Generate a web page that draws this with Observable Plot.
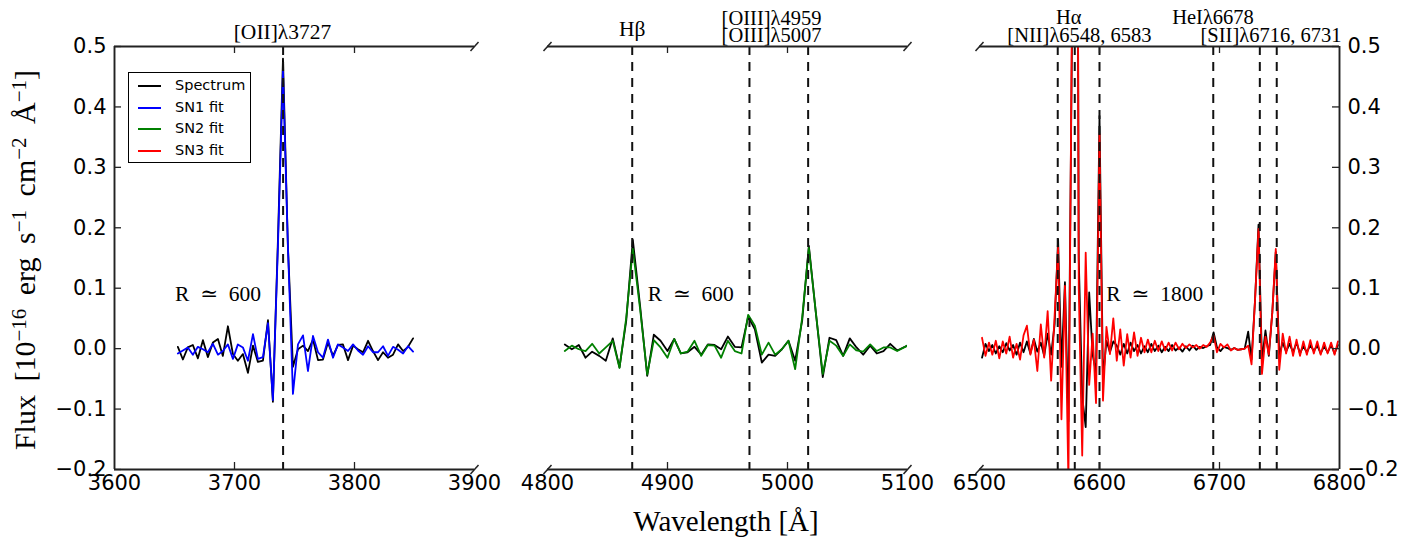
<!DOCTYPE html>
<html>
<head>
<meta charset="utf-8">
<script src="https://cdn.jsdelivr.net/npm/d3@7"></script>
<script src="https://cdn.jsdelivr.net/npm/@observablehq/plot@0.6"></script>
<style>
  html, body { margin: 0; padding: 0; background: #fff; }
  #wrap { position: relative; width: 1402px; height: 543px; overflow: hidden; background: #fff; }
  #wrap svg { position: absolute; top: 0; }
  #wrap svg g[aria-label$="tick label"] text { font-size: 21px; font-family: "DejaVu Sans", sans-serif; }
  .serif { font-family: "Liberation Serif", "DejaVu Serif", serif; color: #000; }
  .ytitle { position: absolute; font-size: 30px; white-space: nowrap; word-spacing: 6px; line-height: 30px;
            transform: translate(-50%, -50%) rotate(-90deg); }
  .ytitle sup { font-size: 21px; vertical-align: 0.45em; line-height: 0; }
  .xtitle { position: absolute; font-size: 29px; white-space: nowrap; line-height: 29px; transform: translateX(-50%); }
  .legend { position: absolute; left: 128px; top: 72px; width: 121px; height: 89px; border: 1.5px solid #000; background: #fff;
            font-family: "DejaVu Sans", sans-serif; font-size: 14.5px; }
  .legend .sw { position: absolute; left: 9px; width: 23px; height: 0; border-top: 2px solid; }
  .legend .lb { position: absolute; left: 46px; line-height: 18px; white-space: nowrap; }
</style>
</head>
<body>
<div id="wrap"></div>
<script>
// ---------------- DATA ----------------
const yDomain = [-0.2, 0.5];
const yTicks = [-0.2, -0.1, 0.0, 0.1, 0.2, 0.3, 0.4, 0.5];

const xDomain1 = [3600, 3900];
const xTicks1 = [3600, 3700, 3800, 3900];
const xDomain2 = [4800, 5100];
const xTicks2 = [4800, 4900, 5000, 5100];
const xDomain3 = [6500, 6800];
const xTicks3 = [6500, 6600, 6700, 6800];

const seriesNames = ["Spectrum", "SN1 fit", "SN2 fit", "SN3 fit"];

// Panel 1 : [OII] region (SN1)
const wl1 = [3652.8, 3657.0, 3661.1, 3665.3, 3669.5, 3673.7, 3677.8, 3682.0, 3686.2, 3690.3,
             3694.5, 3698.7, 3702.8, 3707.0, 3711.2, 3715.4, 3719.5, 3723.7, 3727.9, 3732.0,
             3736.2, 3740.4, 3744.5, 3748.7, 3752.9, 3757.1, 3761.2, 3765.4, 3769.6, 3773.7,
             3777.9, 3782.1, 3786.2, 3790.4, 3794.6, 3798.8, 3802.9, 3807.1, 3811.3, 3815.4,
             3819.6, 3823.8, 3827.9, 3832.1, 3836.3, 3840.5, 3844.6, 3848.8];
const spec1 = [0.003, -0.018, 0.002, 0.006, -0.016, 0.014, -0.014, 0.010, 0.016, -0.012,
               0.037, -0.009, -0.020, -0.009, -0.040, 0.005, -0.022, -0.020, 0.047, -0.088,
               0.18, 0.48, 0.17, -0.03, -0.001, 0.005, -0.004, 0.015, -0.019, -0.018,
               0.010, -0.012, 0.006, 0.007, -0.019, 0.005, -0.001, -0.006, 0.013, -0.004,
               -0.019, -0.006, -0.015, -0.010, 0.007, -0.004, 0.003, 0.017];
const fit1 = [-0.008, -0.003, 0.002, -0.010, 0.003, -0.001, -0.006, 0.008, -0.010, -0.004,
              0.007, -0.017, 0.007, 0.002, -0.020, 0.024, -0.017, -0.014, 0.042, -0.085,
              0.17, 0.46, 0.17, -0.075, 0.007, 0.022, -0.037, 0.021, -0.006, -0.015,
              0.015, -0.015, 0.007, 0.002, -0.004, 0.007, -0.003, -0.010, 0.004, -0.006,
              -0.006, 0.004, -0.012, 0.003, -0.002, -0.008, 0.004, -0.005];

// Panel 2 : Hbeta + [OIII] region (SN2)
const wl2 = [4814.4, 4820.3, 4826.1, 4831.7, 4837.2, 4843.1, 4848.6, 4854.4, 4860.0, 4865.6,
             4871.1, 4877.2, 4883.1, 4888.6, 4894.2, 4900.0, 4905.6, 4911.1, 4916.7, 4922.5,
             4928.1, 4933.6, 4939.2, 4944.7, 4950.3, 4956.1, 4961.7, 4967.2, 4972.8, 4978.6,
             4984.2, 4989.7, 4995.3, 5000.8, 5006.4, 5012.2, 5017.8, 5023.6, 5029.4, 5035.0,
             5040.6, 5046.4, 5051.9, 5057.5, 5063.1, 5068.9, 5074.4, 5080.0, 5085.6, 5091.4,
             5100.0];
const spec2 = [0.007, -0.001, 0.006, -0.015, -0.005, -0.012, -0.020, 0.017, -0.031, 0.046,
               0.18, 0.07, -0.045, 0.023, 0.013, -0.004, 0.016, -0.008, -0.006, 0.003,
               -0.010, 0.007, 0.006, -0.001, 0.020, 0.003, 0.002, 0.053, 0.032, -0.023,
               -0.010, -0.012, -0.001, 0.013, -0.020, 0.046, 0.170, 0.06, -0.047, 0.018,
               0.014, -0.012, 0.017, 0.002, -0.010, 0.005, -0.008, -0.004, 0.008, -0.003,
               0.005];
const fit2 = [-0.004, 0.005, -0.001, -0.004, 0.008, -0.008, 0.002, 0.013, -0.032, 0.051,
              0.165, 0.065, -0.043, 0.014, 0.002, -0.015, 0.016, -0.008, -0.005, 0.013,
              -0.012, 0.006, 0.005, -0.015, 0.013, -0.004, -0.008, 0.056, 0.038, -0.010,
              0.010, -0.010, -0.001, 0.013, -0.034, 0.051, 0.167, 0.06, -0.042, 0.013,
              0.005, -0.012, 0.007, -0.003, -0.005, 0.007, -0.004, 0.002, 0.002, -0.004,
              0.005];

// Panel 3 : Halpha + [NII] + HeI + [SII] region (SN3)
const wl3 = [6502.1, 6505.0, 6507.9, 6510.7, 6513.6, 6516.5, 6519.4, 6522.3, 6525.1, 6528.0,
             6530.9, 6533.8, 6536.7, 6539.5, 6542.4, 6545.3, 6548.2, 6551.1, 6553.9, 6556.8,
             6559.7, 6562.6, 6565.5, 6568.3, 6571.2, 6574.1, 6577.0, 6579.9, 6582.7, 6585.6,
             6588.5, 6591.4, 6594.3, 6597.1, 6600.0, 6602.9, 6605.8, 6608.7, 6611.5, 6614.4,
             6617.3, 6620.2, 6623.1, 6625.9, 6628.8, 6631.7, 6634.6, 6637.5, 6640.3, 6643.2,
             6646.1, 6649.0, 6651.9, 6654.7, 6657.6, 6660.5, 6663.4, 6666.3, 6669.1, 6672.0,
             6674.9, 6677.8, 6680.7, 6683.5, 6686.4, 6689.3, 6692.2, 6695.1, 6697.9, 6700.8,
             6703.7, 6706.6, 6709.5, 6712.3, 6715.2, 6718.1, 6721.0, 6723.9, 6726.7, 6729.6,
             6732.5, 6735.4, 6738.3, 6741.1, 6744.0, 6746.9, 6749.8, 6752.7, 6755.5, 6758.4,
             6761.3, 6764.2, 6767.1, 6769.9, 6772.8, 6775.7, 6778.6, 6781.5, 6784.3, 6787.2,
             6790.1, 6793.0, 6795.9, 6798.7];
const spec3 = [-0.015, 0.008, -0.004, 0.006, -0.008, 0.004, -0.006, 0.009, -0.003, 0.006,
               -0.010, 0.010, -0.006, 0.012, -0.008, 0.016, -0.005, 0.010, -0.012, 0.025,
               -0.010, 0.040, 0.181, -0.030, 0.110, -0.120, 0.500, 2.000, 0.150, -0.080,
               -0.130, 0.093, -0.010, -0.040, 0.385, -0.050, 0.013, -0.006, 0.012, 0.005,
               -0.010, 0.008, -0.008, 0.010, -0.004, 0.006, -0.008, 0.004, -0.006, 0.008,
               -0.004, 0.005, -0.006, 0.003, -0.004, 0.006, -0.003, 0.002, -0.005, 0.004,
               -0.003, 0.005, -0.002, 0.003, 0.001, 0.004, 0.006, 0.027, 0.002, -0.004,
               0.003, 0.001, -0.002, 0.001, -0.002, -0.001, 0.000, 0.028, -0.018, 0.080,
               0.205, -0.020, 0.030, -0.012, 0.060, 0.160, -0.010, 0.010, -0.005, 0.008,
               -0.006, 0.010, -0.008, 0.004, -0.006, 0.006, -0.004, 0.005, -0.008, 0.004,
               -0.006, 0.006, -0.008, 0.006];
const fit3 = [0.018, -0.012, 0.010, -0.010, 0.013, -0.016, 0.012, -0.008, 0.020, -0.015,
              0.008, -0.018, 0.022, 0.038, -0.010, 0.015, -0.037, 0.040, -0.015, 0.062,
              -0.053, 0.055, 0.167, -0.117, 0.104, -0.220, 0.550, 2.200, 0.100, -0.177,
              0.159, -0.060, 0.025, -0.090, 0.355, -0.086, 0.036, -0.009, 0.050, -0.020,
              0.032, -0.028, 0.024, -0.015, 0.027, -0.012, 0.018, -0.006, 0.015, -0.006,
              0.013, -0.004, 0.012, -0.003, 0.010, -0.003, 0.010, -0.001, 0.008, 0.001,
              0.007, 0.002, 0.006, 0.000, 0.006, 0.003, 0.010, 0.022, -0.006, 0.008,
              0.002, 0.007, -0.003, 0.001, -0.002, -0.001, 0.000, 0.005, -0.026, 0.080,
              0.198, -0.042, 0.020, -0.010, 0.060, 0.165, -0.035, 0.025, -0.008, 0.020,
              -0.012, 0.015, -0.012, 0.012, -0.010, 0.014, -0.008, 0.012, -0.010, 0.010,
              -0.008, 0.010, -0.010, 0.012];

// emission-line markers (observed wavelengths)
const lineWl1 = [3740.5];
const lineWl2 = [4870.6, 4968.3, 5017.2];
const lineWl3 = [6565.2, 6579.4, 6600.0, 6694.8, 6733.6, 6747.7];

// emission-line labels
const labelText1 = ["[OII]λ3727"];
const labelWl1 = [3740.0];
const labelText2 = ["Hβ", "[OIII]λ4959", "[OIII]λ5007"];
const labelWl2 = [4870.6, 4986.7, 4986.7];
const labelText3 = ["Hα", "[NII]λ6548, 6583", "HeIλ6678", "[SII]λ6716, 6731"];
const labelWl3 = [6574.4, 6583.3, 6694.6, 6742.9];

// spectral resolution notes
const resText = ["R\u2002≃\u2002600", "R\u2002≃\u2002600", "R\u2002≃\u20021800"];
const resWl = [3686.3, 4919.4, 6646.0];
const resFlux = 0.079;

// ---------------- LAYOUT / STYLE ----------------
const H = 543, M_TOP = 46, M_BOTTOM = 74, INNER_W = 360;
const SPINE = "#222";
const SERIF = "Liberation Serif, DejaVu Serif, serif";
const colors = {spectrum: "#000000", sn1: "#0000ff", sn2: "#008000", sn3: "#ff0000"};
const legendColors = [colors.spectrum, colors.sn1, colors.sn2, colors.sn3];
const labelLift1 = [8];
const labelLift2 = [10.5, 22, 4.3];
const labelLift3 = [22.5, 4.3, 22.5, 4.3];
const labelSize1 = [21.5];
const labelSize2 = [21.5, 20.5, 20.5];
const labelSize3 = [20.5, 20.5, 20.5, 20.5];
const SLASH = { draw(ctx) { ctx.moveTo(-4, 4.5); ctx.lineTo(4, -4.5); } };
const fmtY = d3.format(".1f");

function buildPanel(p) {
  const innerH = H - M_TOP - M_BOTTOM;
  const width = p.ml + INNER_W + p.mr;
  const inner = p.xTicks.slice(1, -1);
  const marks = [];

  p.series.forEach(s => {
    const rows = s.wl.map((w, i) => ({w, f: s.flux[i]}));
    marks.push(Plot.line(rows, {x: "w", y: "f", stroke: s.color, strokeWidth: 1.8, clip: true}));
  });

  marks.push(Plot.ruleX(p.lines, {x: d => d, stroke: "#111", strokeWidth: 2, strokeDasharray: "9,7"}));

  // spines
  marks.push(Plot.ruleY(yDomain, {y: d => d, stroke: SPINE, strokeWidth: 1.9}));
  if (p.leftSpine) marks.push(Plot.ruleX([p.xDomain[0]], {x: d => d, stroke: SPINE, strokeWidth: 1.9}));
  if (p.rightSpine) marks.push(Plot.ruleX([p.xDomain[1]], {x: d => d, stroke: SPINE, strokeWidth: 1.9}));

  // inward ticks on top and bottom
  marks.push(Plot.tickX(inner, {x: d => d, insetTop: innerH - 7, stroke: SPINE, strokeWidth: 1.3}));
  marks.push(Plot.tickX(inner, {x: d => d, insetBottom: innerH - 7, stroke: SPINE, strokeWidth: 1.3}));

  // x tick labels
  marks.push(Plot.axisX(p.xTicks, {anchor: "bottom", tickSize: 0, tickPadding: 6, fontSize: 21,
    tickFormat: d => String(d), label: null, fill: "#000"}));

  if (p.leftSpine) {
    marks.push(Plot.tickY(yTicks, {y: d => d, insetRight: INNER_W - 7, stroke: SPINE, strokeWidth: 1.3}));
    marks.push(Plot.axisY(yTicks, {anchor: "left", tickSize: 0, tickPadding: 8, fontSize: 21,
      tickFormat: fmtY, label: null, fill: "#000"}));
  }
  if (p.rightSpine) {
    marks.push(Plot.tickY(yTicks, {y: d => d, insetLeft: INNER_W - 7, stroke: SPINE, strokeWidth: 1.3}));
    marks.push(Plot.axisY(yTicks, {anchor: "right", tickSize: 0, tickPadding: 8, fontSize: 21,
      tickFormat: fmtY, label: null, fill: "#000"}));
  }

  // broken-axis slashes
  const corners = [];
  p.breaks.forEach(side => {
    const x = side === "left" ? p.xDomain[0] : p.xDomain[1];
    corners.push({x, y: yDomain[0]}, {x, y: yDomain[1]});
  });
  if (corners.length) marks.push(Plot.dot(corners, {x: "x", y: "y", symbol: SLASH, r: 5,
    stroke: SPINE, strokeWidth: 1.5, fill: "none"}));

  // line labels
  p.labelText.forEach((t, i) => {
    marks.push(Plot.text([t], {x: () => p.labelWl[i], text: d => d, frameAnchor: "top",
      lineAnchor: "bottom", dy: -p.labelLift[i], fontFamily: SERIF, fontSize: p.labelSize[i], fill: "#000"}));
  });

  // resolution note
  marks.push(Plot.text([p.res], {x: () => p.resWl, y: () => resFlux, text: d => d,
    lineAnchor: "bottom", fontFamily: SERIF, fontSize: 21.5, fill: "#000"}));

  const svg = Plot.plot({
    width, height: H,
    marginLeft: p.ml, marginRight: p.mr, marginTop: M_TOP, marginBottom: M_BOTTOM,
    x: {domain: p.xDomain, axis: null},
    y: {domain: yDomain, axis: null},
    style: {background: "transparent", overflow: "visible", fontFamily: "DejaVu Sans, sans-serif",
            fontSize: "21px", color: "#000"},
    marks
  });
  svg.style.position = "absolute";
  svg.style.left = p.left + "px";
  svg.style.top = "0px";
  svg.style.maxWidth = "none";
  return svg;
}

const wrap = document.getElementById("wrap");

wrap.appendChild(buildPanel({
  left: 44, ml: 70, mr: 30, xDomain: xDomain1, xTicks: xTicks1,
  series: [{wl: wl1, flux: spec1, color: colors.spectrum}, {wl: wl1, flux: fit1, color: colors.sn1}],
  lines: lineWl1, leftSpine: true, rightSpine: false, breaks: ["right"],
  labelText: labelText1, labelWl: labelWl1, labelLift: labelLift1, labelSize: labelSize1,
  res: resText[0], resWl: resWl[0]
}));
wrap.appendChild(buildPanel({
  left: 527, ml: 20, mr: 20, xDomain: xDomain2, xTicks: xTicks2,
  series: [{wl: wl2, flux: spec2, color: colors.spectrum}, {wl: wl2, flux: fit2, color: colors.sn2}],
  lines: lineWl2, leftSpine: false, rightSpine: false, breaks: ["left", "right"],
  labelText: labelText2, labelWl: labelWl2, labelLift: labelLift2, labelSize: labelSize2,
  res: resText[1], resWl: resWl[1]
}));
wrap.appendChild(buildPanel({
  left: 959, ml: 20, mr: 61, xDomain: xDomain3, xTicks: xTicks3,
  series: [{wl: wl3, flux: spec3, color: colors.spectrum}, {wl: wl3, flux: fit3, color: colors.sn3}],
  lines: lineWl3, leftSpine: false, rightSpine: true, breaks: ["left"],
  labelText: labelText3, labelWl: labelWl3, labelLift: labelLift3, labelSize: labelSize3,
  res: resText[2], resWl: resWl[2]
}));

// axis titles
const yt = document.createElement("div");
yt.className = "serif ytitle";
yt.style.left = "25px";
yt.style.top = "260px";
yt.innerHTML = "Flux [10<sup>−16</sup> erg s<sup>−1</sup> cm<sup>−2</sup> Å<sup>−1</sup>]";
wrap.appendChild(yt);

const xt = document.createElement("div");
xt.className = "serif xtitle";
xt.style.left = "726px";
xt.style.top = "507px";
xt.textContent = "Wavelength [Å]";
wrap.appendChild(xt);

// legend
const lg = document.createElement("div");
lg.className = "legend";
const rowY = [13, 35, 56, 78];
seriesNames.forEach((name, i) => {
  const sw = document.createElement("div");
  sw.className = "sw";
  sw.style.top = (rowY[i] - 1) + "px";
  sw.style.borderTopColor = legendColors[i];
  lg.appendChild(sw);
  const lb = document.createElement("div");
  lb.className = "lb";
  lb.style.top = (rowY[i] - 10) + "px";
  lb.textContent = name;
  lg.appendChild(lb);
});
wrap.appendChild(lg);
</script>
</body>
</html>
